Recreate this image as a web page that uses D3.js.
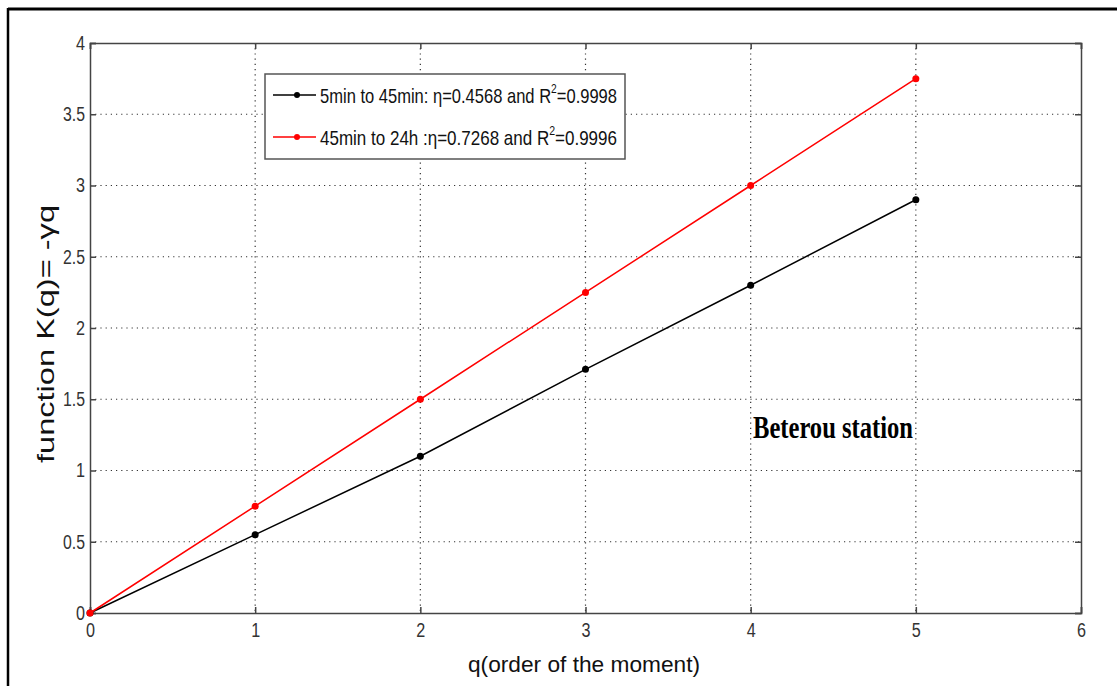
<!DOCTYPE html>
<html>
<head>
<meta charset="utf-8">
<script src="https://cdn.jsdelivr.net/npm/d3@7"></script>
<style>
  body { margin: 0; background: #fff; }
</style>
</head>
<body>
<svg id="chart" width="1117" height="686"></svg>
<script>
// order of the moment q
var qValues = [0, 1, 2, 3, 4, 5];
// K(q) for both scale ranges
var kShort = [0, 0.55, 1.10, 1.71, 2.30, 2.90];
var kLong = [0, 0.75, 1.50, 2.25, 3.00, 3.75];
var xTicks = [0, 1, 2, 3, 4, 5, 6];
var yTicks = [0, 0.5, 1, 1.5, 2, 2.5, 3, 3.5, 4];
var seriesNames = ["5min to 45min: \u03b7=0.4568 and R", "45min to 24h :\u03b7=0.7268 and R"];
var seriesTails = ["=0.9998", "=0.9996"];
var seriesColors = ["#000", "#ff0000"];

var sans = "'Liberation Sans', Arial, sans-serif";
var svg = d3.select("#chart");

// outer frame of the figure
svg.append("line").attr("x1", 8).attr("x2", 1117).attr("y1", 9).attr("y2", 9)
	.attr("stroke", "#000").attr("stroke-width", 3);
svg.append("line").attr("x1", 8).attr("x2", 8).attr("y1", 8).attr("y2", 686)
	.attr("stroke", "#000").attr("stroke-width", 2.5);

var pLeft = 90, pRight = 1081, pTop = 43, pBottom = 613;

var x = d3.scaleLinear().domain([0, 6]).range([pLeft, pRight]);
var y = d3.scaleLinear().domain([0, 4]).range([pBottom, pTop]);

// dotted grid
var grid = svg.append("g").attr("class", "grid");
xTicks.slice(1, -1).forEach(function(t) {
	grid.append("line").attr("x1", x(t)).attr("x2", x(t)).attr("y1", pTop).attr("y2", pBottom)
		.attr("stroke", "#333").attr("stroke-width", 1.2).attr("stroke-dasharray", "1.2,4");
});
yTicks.slice(1, -1).forEach(function(t) {
	grid.append("line").attr("x1", pLeft).attr("x2", pRight).attr("y1", y(t)).attr("y2", y(t))
		.attr("stroke", "#333").attr("stroke-width", 1.2).attr("stroke-dasharray", "1.2,4");
});

// axes with inward ticks, matlab style
svg.append("g").attr("transform", "translate(0," + pBottom + ")")
	.call(d3.axisBottom(x).tickValues(xTicks).tickSize(-6).tickPadding(10).tickFormat(d3.format("d")));
svg.append("g").attr("transform", "translate(" + pLeft + ",0)")
	.call(d3.axisLeft(y).tickValues(yTicks).tickSize(-6).tickPadding(5).tickFormat(function(d) { return d; }));
svg.append("g").attr("transform", "translate(0," + pTop + ")")
	.call(d3.axisTop(x).tickValues(xTicks).tickSize(-6).tickFormat(""));
svg.append("g").attr("transform", "translate(" + pRight + ",0)")
	.call(d3.axisRight(y).tickValues(yTicks).tickSize(-6).tickFormat(""));

svg.selectAll(".domain").attr("stroke", "#444").attr("stroke-width", 1.5);
svg.selectAll(".tick line").attr("stroke", "#444").attr("stroke-width", 1.5);
svg.selectAll(".tick text").style("font-size", "20px").attr("fill", "#333")
	.style("font-family", sans)
	.attr("textLength", function(d) { return String(d).length === 1 ? 9 : 22; })
	.attr("lengthAdjust", "spacingAndGlyphs");

// series
var line = d3.line().x(function(d) { return x(d[0]); }).y(function(d) { return y(d[1]); });
[kShort, kLong].forEach(function(vals, i) {
	var pts = qValues.map(function(q, j) { return [q, vals[j]]; });
	svg.append("path").datum(pts).attr("d", line)
		.attr("fill", "none").attr("stroke", seriesColors[i]).attr("stroke-width", 1.5);
	svg.selectAll(".dot" + i).data(pts).enter().append("circle")
		.attr("cx", function(d) { return x(d[0]); })
		.attr("cy", function(d) { return y(d[1]); })
		.attr("r", 3.5).attr("fill", seriesColors[i]);
});

// legend
var lg = svg.append("g");
lg.append("rect").attr("x", 265).attr("y", 74).attr("width", 360).attr("height", 85)
	.attr("fill", "#fff").attr("stroke", "#555").attr("stroke-width", 1.5);
seriesNames.forEach(function(name, i) {
	var ly = 95 + i * 42;
	lg.append("line").attr("x1", 273).attr("x2", 316).attr("y1", ly).attr("y2", ly)
		.attr("stroke", seriesColors[i]).attr("stroke-width", 1.5);
	lg.append("circle").attr("cx", 297).attr("cy", ly).attr("r", 3).attr("fill", seriesColors[i]);
	var t = lg.append("text").attr("x", 320).attr("y", ly + 8)
		.style("font-family", sans).style("font-size", "21px").attr("fill", "#111")
		.attr("textLength", 297).attr("lengthAdjust", "spacingAndGlyphs");
	t.append("tspan").text(name);
	t.append("tspan").style("font-size", "13px").attr("dy", -10).text("2");
	t.append("tspan").attr("dy", 10).text(seriesTails[i]);
});

// annotation
svg.append("text").attr("x", 753).attr("y", 438)
	.style("font-family", "'Liberation Serif', 'Times New Roman', serif")
	.style("font-weight", "bold").style("font-size", "31px").attr("fill", "#000")
	.attr("textLength", 160).attr("lengthAdjust", "spacingAndGlyphs")
	.text("Beterou station");

// axis titles
svg.append("text").attr("x", 584).attr("y", 672).attr("text-anchor", "middle")
	.style("font-family", sans).style("font-size", "22px").attr("fill", "#111")
	.attr("textLength", 232).attr("lengthAdjust", "spacingAndGlyphs")
	.text("q(order of the moment)");
svg.append("text").attr("transform", "translate(54,334) rotate(-90)").attr("text-anchor", "middle")
	.style("font-family", sans).style("font-size", "24px").attr("fill", "#111")
	.attr("textLength", 258).attr("lengthAdjust", "spacingAndGlyphs")
	.text("function K(q)= -\u03b3q");
</script>
</body>
</html>
